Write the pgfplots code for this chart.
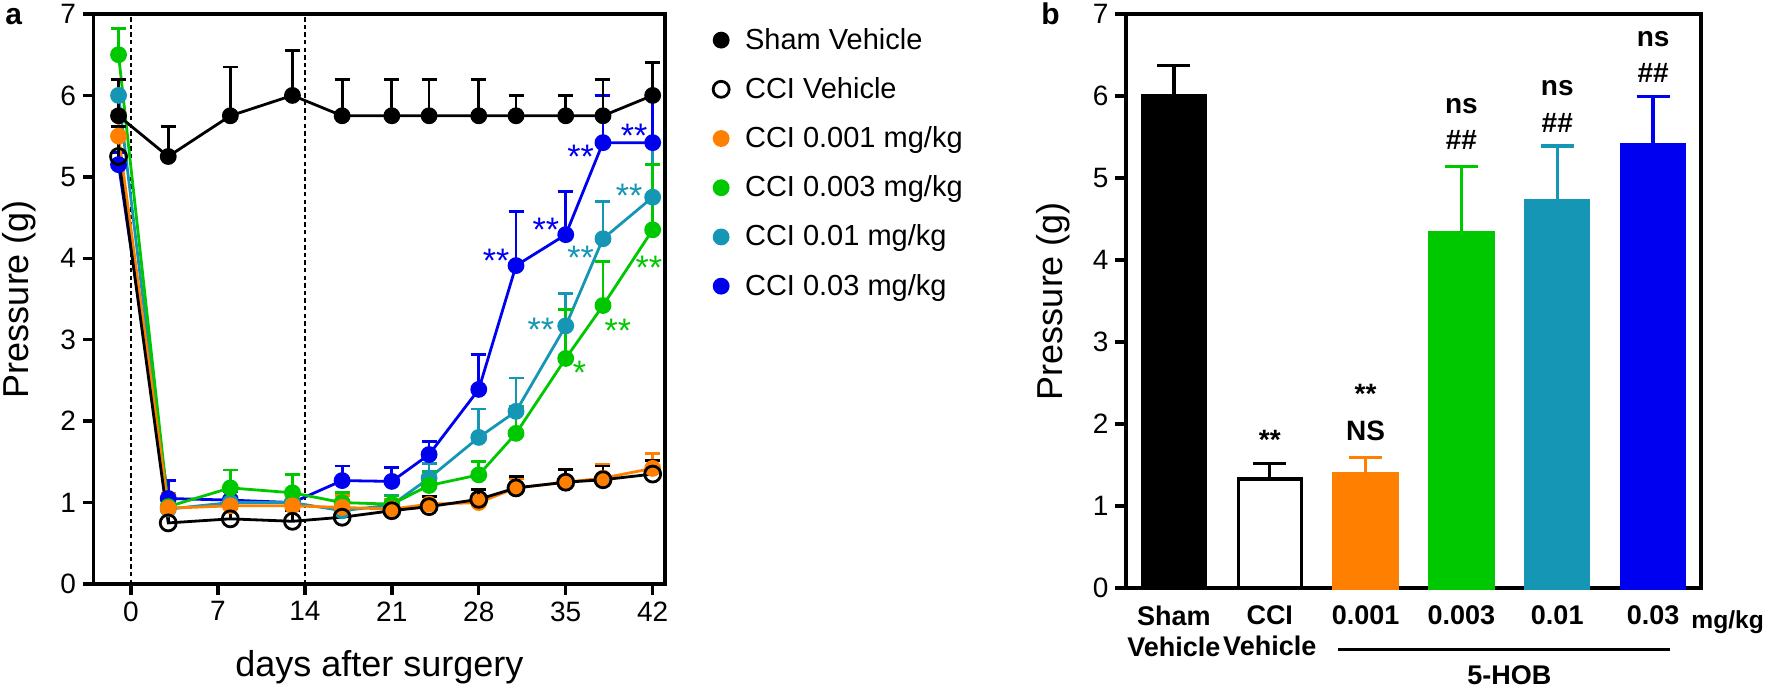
\documentclass[border=0pt]{standalone}
\usepackage{fontspec}
\setmainfont{Liberation Sans}
\usepackage{pgfplots}
\usepackage{pgfplotstable}
\pgfplotsset{compat=1.18}

\definecolor{corange}{RGB}{255,128,0}
\definecolor{cgreen}{RGB}{0,200,0}
\definecolor{cteal}{RGB}{20,150,180}
\definecolor{cblue}{RGB}{0,0,240}

% days, then mean and upper error for each group
\pgfplotstableread{
d   sh   she  cc   cce  o    oe   g    ge   t    te   b    be
-1  5.75 0.45 5.25 0.37 5.50 0.30 6.50 0.32 6.00 0.20 5.15 0.15
3   5.25 0.37 0.75 0.15 0.93 0.18 0.95 0.10 0.92 0.12 1.05 0.22
8   5.75 0.60 0.80 0.12 0.96 0.12 1.18 0.22 1.00 0.15 1.03 0.10
13  6.00 0.55 0.77 0.13 0.96 0.15 1.12 0.22 1.00 0.15 1.00 0.10
17  5.75 0.45 0.82 0.12 0.94 0.15 1.00 0.12 0.90 0.12 1.27 0.18
21  5.75 0.45 0.90 0.10 0.92 0.12 0.98 0.10 0.97 0.12 1.26 0.17
24  5.75 0.45 0.95 0.12 0.98 0.10 1.21 0.17 1.30 0.18 1.59 0.16
28  5.75 0.45 1.04 0.12 1.00 0.10 1.34 0.16 1.80 0.35 2.39 0.43
31  5.75 0.25 1.18 0.14 1.18 0.12 1.85 0.33 2.12 0.41 3.91 0.66
35  5.75 0.25 1.25 0.16 1.25 0.15 2.77 0.60 3.17 0.40 4.29 0.53
38  5.75 0.45 1.28 0.17 1.30 0.17 3.42 0.54 4.24 0.46 5.42 0.58
42  6.00 0.40 1.35 0.17 1.42 0.18 4.35 0.80 4.75 0.65 5.42 0.58
}\daydata

\pgfplotsset{
  ser/.style={color=#1, line width=1.4pt, mark=*, mark size=3.5pt,
    mark options={solid, fill=#1},
    /pgfplots/error bars/y dir=plus, /pgfplots/error bars/y explicit,
    /pgfplots/error bars/error bar style={line width=1.4pt, color=#1},
    /pgfplots/error bars/error mark options={rotate=90, line width=1.4pt, mark size=3.75pt, color=#1}},
  bar/.style 2 args={ybar, bar width=31.5pt, bar shift=0pt, fill=#1, draw=#2, line width=1.6pt,
    /pgfplots/error bars/y dir=plus, /pgfplots/error bars/y explicit,
    /pgfplots/error bars/error bar style={line width=1.6pt, color=#2},
    /pgfplots/error bars/error mark options={rotate=90, line width=1.6pt, mark size=8.25pt, color=#2}},
  frame/.style={scale only axis, ymin=0, ymax=7, ytick={0,...,7},
    axis line style={line width=1.7pt}, tick align=outside, tick pos=left,
    major tick length=5.3pt, every tick/.style={line width=1.7pt, black},
    /pgf/number format/assume math mode=true,
    tick label style={font=\fontsize{14}{16}\selectfont},
    label style={font=\fontsize{18}{20}\selectfont},
    clip=false},
}

\begin{document}
\begin{tikzpicture}
\path[use as bounding box] (0,0) rectangle (884pt,344.5pt);
\node[anchor=base west, font=\bfseries\fontsize{15}{17}\selectfont, inner sep=0pt] at (2.5pt,332pt) {a};
\node[anchor=base west, font=\bfseries\fontsize{15}{17}\selectfont, inner sep=0pt] at (520.5pt,332pt) {b};

\begin{axis}[frame, at={(46.85pt,52.5pt)}, anchor=south west,
  width=285.7pt, height=285pt, xmin=-3, xmax=43, xtick={0,7,...,42},
  xlabel={days after surgery}, ylabel={Pressure (g)},
  xlabel style={at={(axis description cs:0.5,0)}, anchor=base, yshift=-46.5pt},
  ylabel style={at={(axis description cs:-0.1605,0.5)}, anchor=north, inner sep=0pt},
  reverse legend,
  legend image code/.code={\path[draw=none, fill=none] (0cm,0cm) -- (0.55cm,0cm);
    \draw[#1, /tikz/only marks] plot coordinates {(0.2cm,0cm)};},
  legend style={at={(axis description cs:1.067,0.99)}, anchor=north west, draw=none, fill=none,
    font=\fontsize{14.5}{16}\selectfont, row sep=8.6pt},
  legend cell align=left]
\draw[line width=0.7pt, dash pattern=on 2.2pt off 1.6pt] (axis cs:0,0) -- (axis cs:0,7);
\draw[line width=0.7pt, dash pattern=on 2.2pt off 1.6pt] (axis cs:14,0) -- (axis cs:14,7);
\addplot[ser=cblue] table[x=d, y=b, y error=be] {\daydata};
\addlegendentry{CCI 0.03 mg/kg}
\addplot[ser=cteal] table[x=d, y=t, y error=te] {\daydata};
\addlegendentry{CCI 0.01 mg/kg}
\addplot[ser=cgreen] table[x=d, y=g, y error=ge] {\daydata};
\addlegendentry{CCI 0.003 mg/kg}
\addplot[ser=corange] table[x=d, y=o, y error=oe] {\daydata};
\addlegendentry{CCI 0.001 mg/kg}
\addplot[ser=black, mark=o, mark size=4pt, mark options={solid, fill=none}] table[x=d, y=cc, y error=cce] {\daydata};
\addlegendentry{CCI Vehicle}
\addplot[ser=black] table[x=d, y=sh, y error=she] {\daydata};
\addlegendentry{Sham Vehicle}
\begin{scope}[font=\fontsize{17}{19}\selectfont, anchor=base, yshift=-9.7pt]
\node[text=cblue] at (axis cs:29.4,4.06) {**};
\node[text=cblue] at (axis cs:33.4,4.45) {**};
\node[text=cblue] at (axis cs:36.2,5.34) {**};
\node[text=cblue] at (axis cs:40.5,5.60) {**};
\node[text=cteal] at (axis cs:33.0,3.22) {**};
\node[text=cteal] at (axis cs:36.2,4.10) {**};
\node[text=cteal] at (axis cs:40.1,4.86) {**};
\node[text=cgreen] at (axis cs:36.1,2.69) {*};
\node[text=cgreen] at (axis cs:39.2,3.21) {**};
\node[text=cgreen] at (axis cs:41.7,3.98) {**};
\end{scope}
\end{axis}

\begin{axis}[frame, at={(563pt,50.5pt)}, anchor=south west,
  width=287.5pt, height=287pt, xmin=-0.5, xmax=5.5,
  xtick={0,...,5}, xtick style={draw=none},
  xticklabels={{Sham\\Vehicle},{CCI\\Vehicle},0.001,0.003,0.01,0.03},
  xticklabel style={align=center, font=\bfseries\fontsize{13.5}{15.5}\selectfont},
  ylabel={Pressure (g)},
  ylabel style={at={(axis description cs:-0.1565,0.5)}, anchor=north, inner sep=0pt}]
\addplot[bar={black}{black}] coordinates {(0,6.00) +- (0,0.37)};
\addplot[bar={white}{black}] coordinates {(1,1.33) +- (0,0.19)};
\addplot[bar={corange}{corange}] coordinates {(2,1.40) +- (0,0.19)};
\addplot[bar={cgreen}{cgreen}] coordinates {(3,4.33) +- (0,0.81)};
\addplot[bar={cteal}{cteal}] coordinates {(4,4.73) +- (0,0.66)};
\addplot[bar={cblue}{cblue}] coordinates {(5,5.41) +- (0,0.58)};
\begin{scope}[font=\bfseries\fontsize{14}{16}\selectfont, anchor=base]
\node[yshift=-8pt] at (axis cs:1,1.89) {**};
\node[yshift=-8pt] at (axis cs:2,2.44) {**};
\node[yshift=-5pt] at (axis cs:2,1.92) {NS};
\node[yshift=-3.7pt] at (axis cs:3,5.88) {ns};
\node[yshift=-5pt] at (axis cs:3,5.47) {\#\#};
\node[yshift=-3.7pt] at (axis cs:4,6.10) {ns};
\node[yshift=-5pt] at (axis cs:4,5.68) {\#\#};
\node[yshift=-3.7pt] at (axis cs:5,6.70) {ns};
\node[yshift=-5pt] at (axis cs:5,6.29) {\#\#};
\end{scope}
\node[anchor=base west, inner sep=0pt, xshift=-5pt, yshift=-20.5pt, font=\bfseries\fontsize{12.3}{14}\selectfont] at (axis cs:5.5,0) {mg/kg};
\draw[line width=1.5pt] ([yshift=-31pt]axis cs:1.71,0) -- ([yshift=-31pt]axis cs:5.18,0);
\node[anchor=base, yshift=-48.5pt, font=\bfseries\fontsize{13.5}{15.5}\selectfont] at (axis cs:3.5,0) {5-HOB};
\end{axis}
\end{tikzpicture}
\end{document}
